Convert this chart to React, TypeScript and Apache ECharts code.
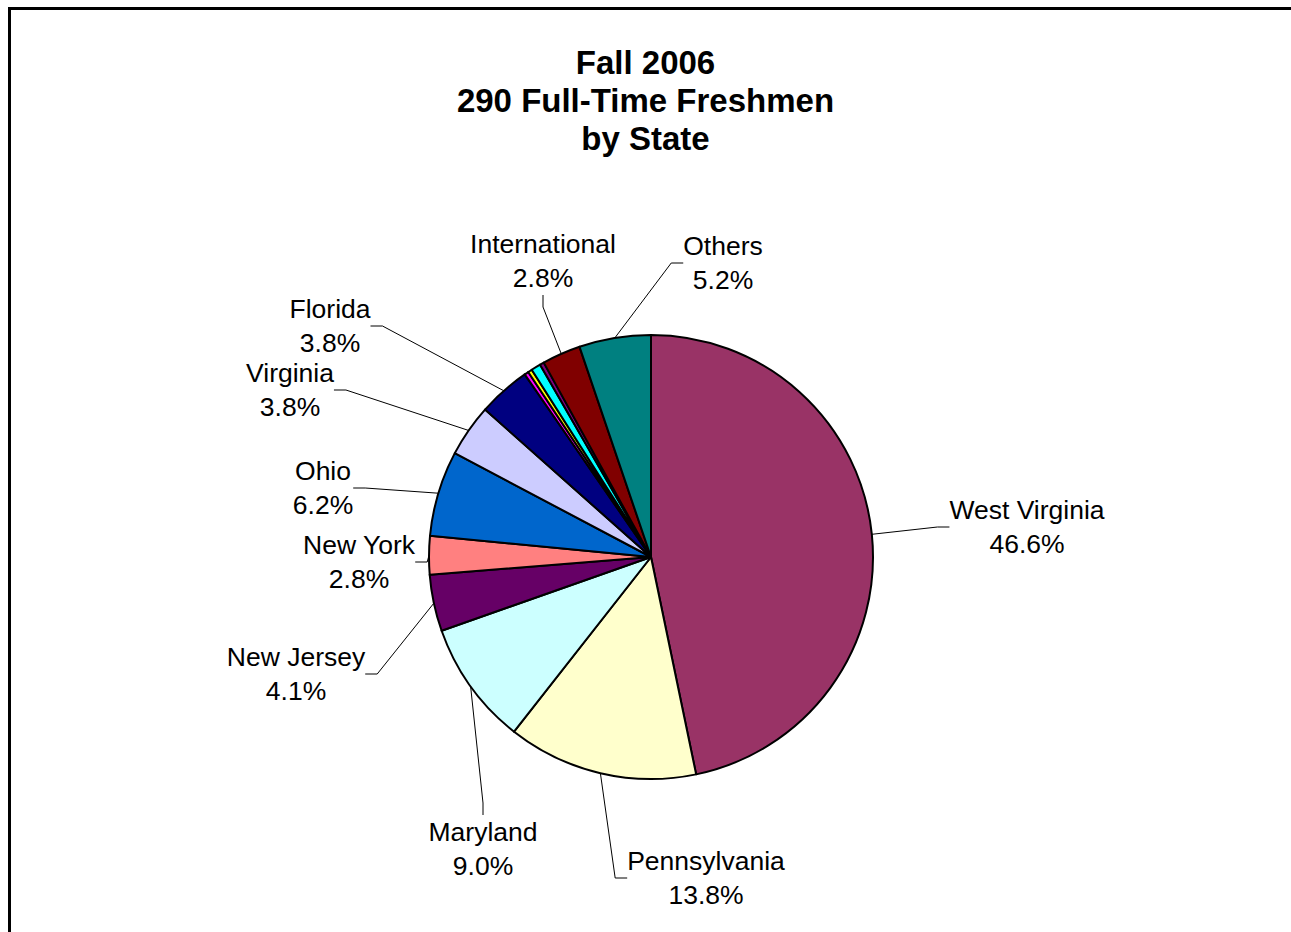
import React, { useEffect, useRef } from "react";
import * as echarts from "echarts";

const names = [
  "West Virginia", "Pennsylvania", "Maryland", "New Jersey", "New York", "Ohio",
  "Virginia", "Florida", "Small A", "Small B", "Small C", "Small D", "International", "Others",
];
const values = [46.6, 13.8, 9.0, 4.1, 2.8, 6.2, 3.8, 3.8, 0.3, 0.3, 0.7, 0.3, 2.8, 5.2];
const colors = [
  "#993366", "#FFFFCC", "#CCFFFF", "#660066", "#FF8080", "#0066CC",
  "#CCCCFF", "#000080", "#FF00FF", "#FFFF00", "#00FFFF", "#800080", "#800000", "#008080",
];
const showLabel = [true, true, true, true, true, true, true, true, false, false, false, false, true, true];
const titleText = "Fall 2006\n290 Full-Time Freshmen\nby State";

// label block centres (layout only)
const labelPos: Record<number, [number, number]> = {
  0: [1027, 527],
  1: [706, 878],
  2: [483, 849],
  3: [296, 674],
  4: [359, 562],
  5: [323, 488],
  6: [290, 390],
  7: [330, 326],
  12: [543, 261],
  13: [723, 263],
};

export default function App() {
  const ref = useRef<HTMLDivElement>(null);
  useEffect(() => {
    if (!ref.current) return;
    const chart = echarts.init(ref.current, undefined, { renderer: "svg" });
    const font = "'Liberation Sans', Arial, Helvetica, sans-serif";
    chart.setOption({
      animation: false,
      backgroundColor: "#ffffff",
      title: {
        text: titleText,
        left: "center",
        top: 38,
        textStyle: {
          fontFamily: font,
          fontSize: 33,
          fontWeight: "bold",
          lineHeight: 38,
          color: "#000",
        },
      },
      graphic: [
        {
          type: "rect",
          shape: { x: 9.5, y: 8.5, width: 1400, height: 1000 },
          style: { fill: "none", stroke: "#000", lineWidth: 3 },
          silent: true,
        },
      ],
      series: [
        {
          type: "pie",
          center: [651, 557],
          radius: 222,
          startAngle: 90,
          clockwise: true,
          avoidLabelOverlap: false,
          itemStyle: { borderColor: "#000", borderWidth: 2 },
          emphasis: { disabled: true },
          label: {
            show: true,
            position: "outside",
            fontFamily: font,
            fontSize: 26.5,
            lineHeight: 34,
            color: "#000",
            align: "center",
            formatter: (p: any) => `${p.name}\n${Number(p.value).toFixed(1)}%`,
          },
          labelLine: {
            show: true,
            length: 30,
            length2: 12,
            lineStyle: { color: "#000", width: 1 },
          },
          labelLayout: (params: any) => {
            const pos = labelPos[params.dataIndex];
            if (!pos) return {};
            return { x: pos[0], y: pos[1], align: "center", verticalAlign: "middle" };
          },
          data: names.map((n, i) => ({
            name: n,
            value: values[i],
            itemStyle: { color: colors[i] },
            label: { show: showLabel[i] },
            labelLine: { show: showLabel[i] },
          })),
        },
      ],
    });
    return () => chart.dispose();
  }, []);
  return (
    <div
      ref={ref}
      style={{ position: "absolute", left: 0, top: 0, width: 1291, height: 932 }}
    />
  );
}
